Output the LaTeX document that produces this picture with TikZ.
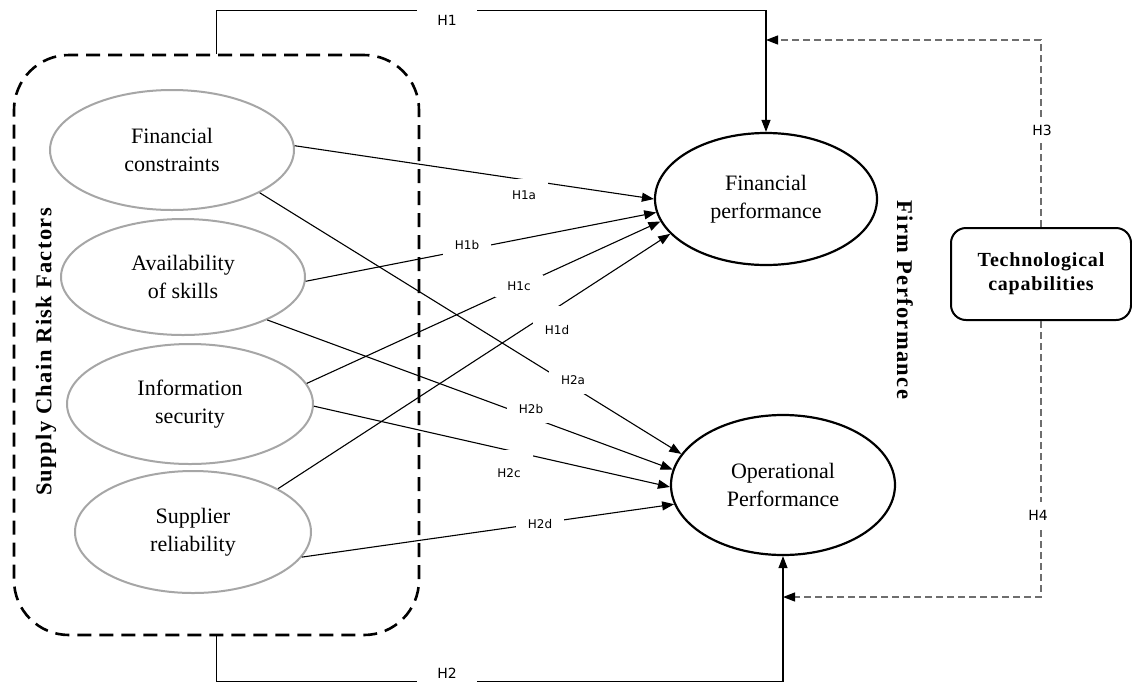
\documentclass[tikz,border=0pt]{standalone}
\usepackage{fontspec}
\setmainfont{Liberation Serif}
\newfontfamily\hypfont{DejaVu Sans}
\newfontfamily\spacedfont{Liberation Serif}[LetterSpace=6]
\newfontfamily\boxfont{Liberation Serif}[LetterSpace=4]
\usetikzlibrary{arrows.meta,shapes.geometric,positioning}
\definecolor{ink}{HTML}{000000}
\definecolor{risk}{HTML}{A6A6A6}
\definecolor{modline}{HTML}{6E6E6E}
\tikzset{
  factor/.style={ellipse,draw=risk,line width=2pt,fill=white,align=center,inner sep=0pt,minimum width=244pt,minimum height=118pt,font=\fontsize{22}{28}\selectfont},
  outcome/.style={factor,draw=ink,line width=2.2pt},
  group/.style={draw=ink,line width=2.6pt,dash pattern=on 14pt off 8pt,rounded corners=55pt,minimum width=405pt,minimum height=580pt},
  moderator/.style={draw=ink,line width=2pt,rounded corners=15pt,minimum width=180pt,minimum height=92pt,align=center,font=\boxfont\bfseries\fontsize{20}{24}\selectfont},
  sidetitle/.style={font=\spacedfont\bfseries\fontsize{22.5}{26}\selectfont},
  hyp/.style={-{Triangle[length=12pt,width=9pt]},line width=1.1pt,draw=ink},
  mod/.style={-{Triangle[length=12pt,width=9pt,color=ink]},line width=1.2pt,draw=modline,dash pattern=on 7pt off 4pt},
  hlab/.style={fill=white,inner xsep=12pt,inner ysep=7pt,font=\hypfont\fontsize{12}{14}\selectfont},
  mainlab/.style={hlab,inner xsep=20pt,inner ysep=8pt,font=\hypfont\fontsize{14}{16}\selectfont}
}
\begin{document}
\begin{tikzpicture}[x=1pt,y=-1pt]
\useasboundingbox (0,0) rectangle (1132,686);

% risk factors
\node[group] (scrf) at (216.5,345) {};
\node[sidetitle,rotate=90] (scrftitle) at (46,352) {Supply Chain Risk Factors};
\node[factor,minimum height=120pt] (fc) at (172,150) {Financial\\constraints};
\node[factor,minimum height=116pt] (as) at (183,277) {Availability\\of skills};
\node[factor,minimum width=246pt,minimum height=120pt] (is) at (190,404) {Information\\security};
\node[factor,minimum width=236pt,minimum height=122pt] (sr) at (193,532) {Supplier\\reliability};

% performance
\node[outcome,minimum width=222pt,minimum height=132pt] (fp) at (766,199) {Financial\\performance};
\node[outcome,minimum width=224pt,minimum height=140pt] (op) at (783,485) {Operational\\Performance};
\node[sidetitle,rotate=-90] (firmtitle) at (905,300) {Firm Performance};
\node[moderator] (tech) at (1041,274) {Technological\\capabilities};

\draw[hyp] (fc.2) -- (fp.180);
\draw[hyp] (as.-2) -- (fp.187);
\draw[hyp] (is.10) -- (fp.192);
\draw[hyp] (sr.27) -- (fp.200);
\draw[hyp] (fc.-26) -- (op.163);
\draw[hyp] (as.-27) -- (op.172);
\draw[hyp] (is.-1) -- (op.181);
\draw[hyp] (sr.-13) -- (op.190);

\node[hlab,inner ysep=12pt] (h1a) at (524,195) {H1a};
\node[hlab] (h1b) at (467,245) {H1b};
\node[hlab] (h1c) at (519,286) {H1c};
\node[hlab,inner ysep=19pt] (h1d) at (557,330) {H1d};
\node[hlab,inner ysep=9pt] (h2a) at (573,380) {H2a};
\node[hlab,inner ysep=9pt] (h2b) at (531,409) {H2b};
\node[hlab,inner ysep=18pt] (h2c) at (509,473) {H2c};
\node[hlab] (h2d) at (540,524) {H2d};

% overall paths and moderation
\coordinate (h3tip) at (fp.north |- 0,40);
\coordinate (h4tip) at (op.south |- 0,597);
\draw[hyp] (scrf.north) -- ++(0,-43) -| (fp.north);
\draw[hyp] (scrf.south) -- ++(0,45) -| (op.south);
\draw[mod] (tech.north) |- (h3tip);
\draw[mod] (tech.south) |- (h4tip);
\node[mainlab] (h1) at (447,20) {H1};
\node[mainlab] (h2) at (447,673) {H2};
\node[mainlab,inner xsep=10pt] (h3) at (1042,130) {H3};
\node[mainlab,inner xsep=10pt] (h4) at (1038,515) {H4};
\end{tikzpicture}
\end{document}
